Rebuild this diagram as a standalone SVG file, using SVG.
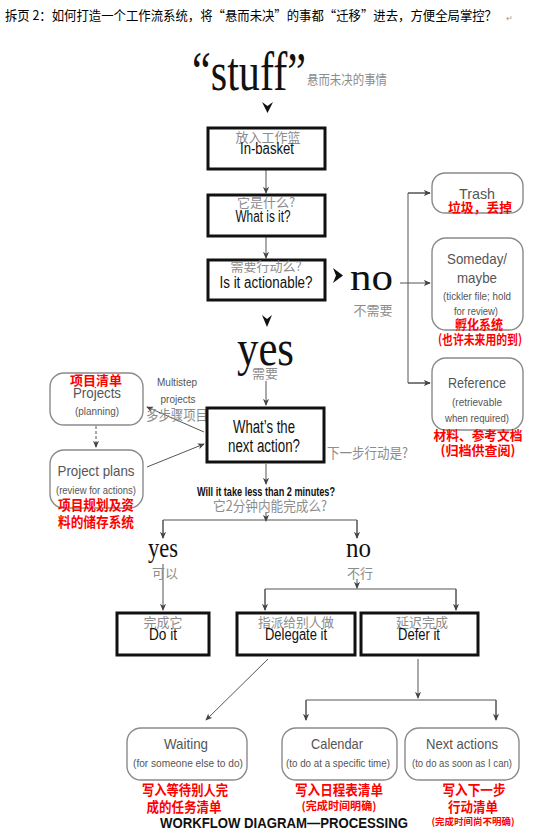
<svg xmlns="http://www.w3.org/2000/svg" width="554" height="837" viewBox="0 0 554 837">
<style>
.bg{fill:#fff}
.bx{fill:#fff;stroke:#111;stroke-width:3}
.rb{fill:#fff;stroke:#8a8a8a;stroke-width:1.4}
.en{font-family:"Liberation Sans",Arial,sans-serif;fill:#111;text-anchor:middle}
.gn{font-family:"Liberation Sans",Arial,sans-serif;fill:#555;text-anchor:middle}
.cn{font-family:"Noto Sans CJK SC",sans-serif;fill:#8c8c8c;text-anchor:middle;font-size:13px}
.rd{font-family:"Noto Sans CJK SC",sans-serif;fill:#ff0000;font-weight:bold;text-anchor:middle;font-size:13px}
.sf{font-family:"Liberation Serif","Times New Roman",serif;fill:#111}
.ln{fill:none;stroke:#555;stroke-width:1}
.ch{fill:#111}
</style>
<defs>
<marker id="ah" viewBox="0 0 8 8" refX="7" refY="4" markerWidth="7" markerHeight="7" orient="auto" markerUnits="userSpaceOnUse">
<path d="M0,0.5 L8,4 L0,7.5 L2,4 Z" fill="#444"/>
</marker>
</defs>
<rect class="bg" width="554" height="837"/>

<g id="title">
<text x="5" y="20" font-family="'Noto Sans CJK SC',sans-serif" font-size="13" fill="#000" textLength="492" lengthAdjust="spacingAndGlyphs">拆页 2：如何打造一个工作流系统，将“悬而未决”的事都“迁移”进去，方便全局掌控？</text>
<text x="506" y="21" font-family="'Noto Sans CJK SC',sans-serif" font-size="8" fill="#999">↵</text>
</g>

<g id="stuff">
<text class="sf" x="192" y="90" font-size="54" textLength="114" lengthAdjust="spacingAndGlyphs">“stuff”</text>
<text class="cn" x="307" y="84" style="text-anchor:start" textLength="80" lengthAdjust="spacingAndGlyphs">悬而未决的事情</text>
</g>

<g id="connectors">
<path class="ch" d="M262,102 L267.5,113 L273,102 L267.5,106 Z"/>
<line class="ln" x1="266" y1="169" x2="266" y2="193" marker-end="url(#ah)"/>
<line class="ln" x1="266" y1="236" x2="266" y2="258" marker-end="url(#ah)"/>
<path class="ch" d="M333,268 L343,275.5 L333,283 L336,275.5 Z"/>
<path class="ch" d="M262,315 L267,327 L272,315 L267,319 Z"/>
<line class="ln" x1="400" y1="283" x2="430" y2="283" marker-end="url(#ah)"/>
<polyline class="ln" points="430,193 408,193 408,383 430,383"/>
<line class="ln" x1="408" y1="193" x2="430" y2="193" marker-end="url(#ah)"/>
<line class="ln" x1="408" y1="383" x2="430" y2="383" marker-end="url(#ah)"/>
<line class="ln" x1="266" y1="381" x2="266" y2="405" marker-end="url(#ah)"/>
<line class="ln" x1="204" y1="432" x2="147" y2="407" marker-end="url(#ah)"/>
<line class="ln" x1="147" y1="467" x2="204" y2="444" marker-end="url(#ah)"/>
<line class="ln" x1="96" y1="426" x2="96" y2="447" stroke-dasharray="3 2" marker-end="url(#ah)"/>
<line class="ln" x1="266" y1="464" x2="266" y2="484" marker-end="url(#ah)"/>
<line class="ln" x1="266" y1="512" x2="266" y2="521" marker-end="url(#ah)"/>
<polyline class="ln" points="163,538 163,520 357,520 357,538"/>
<line class="ln" x1="163" y1="520" x2="163" y2="538" marker-end="url(#ah)"/>
<line class="ln" x1="357" y1="520" x2="357" y2="538" marker-end="url(#ah)"/>
<line class="ln" x1="163" y1="564" x2="163" y2="610" marker-end="url(#ah)"/>
<line class="ln" x1="357" y1="579" x2="357" y2="588" marker-end="url(#ah)"/>
<polyline class="ln" points="265,610 265,589 456,589 456,610"/>
<line class="ln" x1="265" y1="589" x2="265" y2="610" marker-end="url(#ah)"/>
<line class="ln" x1="456" y1="589" x2="456" y2="610" marker-end="url(#ah)"/>
<line class="ln" x1="268" y1="659" x2="206" y2="720" marker-end="url(#ah)"/>
<line class="ln" x1="418" y1="659" x2="418" y2="698" marker-end="url(#ah)"/>
<polyline class="ln" points="306,720 306,700 496,700 496,720"/>
<line class="ln" x1="306" y1="700" x2="306" y2="720" marker-end="url(#ah)"/>
<line class="ln" x1="496" y1="700" x2="496" y2="720" marker-end="url(#ah)"/>
</g>

<g id="in-basket">
<rect class="bx" x="208" y="128" width="117" height="41"/>
<text class="cn" x="268" y="142">放入工作篮</text>
<text class="en" x="267" y="154" font-size="16" textLength="54" lengthAdjust="spacingAndGlyphs">In-basket</text>
</g>

<g id="what-is-it">
<rect class="bx" x="208" y="195" width="117" height="41"/>
<text class="cn" x="266" y="207">它是什么?</text>
<text class="en" x="263" y="222" font-size="16" textLength="55" lengthAdjust="spacingAndGlyphs">What is it?</text>
</g>

<g id="actionable">
<rect class="bx" x="208" y="260" width="117" height="40"/>
<text class="cn" x="266" y="271">需要行动么?</text>
<text class="en" x="266" y="288" font-size="16" textLength="93" lengthAdjust="spacingAndGlyphs">Is it actionable?</text>
</g>

<g id="no-label">
<text class="sf" x="350" y="290" font-size="38" textLength="43" lengthAdjust="spacingAndGlyphs">no</text>
<text class="cn" x="373" y="315">不需要</text>
</g>

<g id="trash">
<rect class="rb" x="432" y="173" width="91" height="40" rx="13"/>
<text class="gn" x="477" y="199" font-size="15" textLength="36" lengthAdjust="spacingAndGlyphs">Trash</text>
<text class="rd" x="480" y="212" textLength="64" lengthAdjust="spacingAndGlyphs">垃圾，丢掉</text>
</g>

<g id="someday">
<rect class="rb" x="432" y="238" width="91" height="92" rx="14"/>
<text class="gn" x="477" y="264" font-size="15" textLength="60" lengthAdjust="spacingAndGlyphs">Someday/</text>
<text class="gn" x="477" y="283" font-size="15" textLength="40" lengthAdjust="spacingAndGlyphs">maybe</text>
<text class="gn" x="477" y="300" font-size="10" textLength="68" lengthAdjust="spacingAndGlyphs">(tickler file; hold</text>
<text class="gn" x="476" y="315" font-size="10" textLength="44" lengthAdjust="spacingAndGlyphs">for review)</text>
<text class="rd" x="479" y="329" textLength="48" lengthAdjust="spacingAndGlyphs">孵化系统</text>
<text class="rd" x="480" y="344" font-size="11" textLength="84" lengthAdjust="spacingAndGlyphs">(也许未来用的到)</text>
</g>

<g id="reference">
<rect class="rb" x="432" y="358" width="91" height="72" rx="14"/>
<text class="gn" x="477" y="388" font-size="15" textLength="58" lengthAdjust="spacingAndGlyphs">Reference</text>
<text class="gn" x="477" y="406" font-size="10" textLength="50" lengthAdjust="spacingAndGlyphs">(retrievable</text>
<text class="gn" x="477" y="422" font-size="10" textLength="64" lengthAdjust="spacingAndGlyphs">when required)</text>
<text class="rd" x="478" y="440" textLength="89" lengthAdjust="spacingAndGlyphs">材料、参考文档</text>
<text class="rd" x="478" y="455" textLength="75" lengthAdjust="spacingAndGlyphs">(归档供查阅)</text>
</g>

<g id="yes-label">
<text class="sf" x="237" y="365" font-size="50" textLength="57" lengthAdjust="spacingAndGlyphs">yes</text>
<text class="cn" x="265" y="378">需要</text>
</g>

<g id="projects">
<rect class="rb" x="50" y="373" width="93" height="52" rx="14"/>
<text class="rd" x="96" y="385" textLength="52" lengthAdjust="spacingAndGlyphs">项目清单</text>
<text class="gn" x="97" y="398" font-size="15" textLength="48" lengthAdjust="spacingAndGlyphs">Projects</text>
<text class="gn" x="97" y="415" font-size="10" textLength="44" lengthAdjust="spacingAndGlyphs">(planning)</text>
</g>

<g id="multistep-label">
<text class="gn" x="177" y="386" font-size="10.5" fill="#666" textLength="40" lengthAdjust="spacingAndGlyphs">Multistep</text>
<text class="gn" x="178" y="403" font-size="10.5" fill="#666" textLength="35" lengthAdjust="spacingAndGlyphs">projects</text>
<text class="cn" x="146" y="420" style="text-anchor:start;font-size:14px" textLength="62" lengthAdjust="spacingAndGlyphs">多步骤项目</text>
</g>

<g id="project-plans">
<rect class="rb" x="50" y="450" width="93" height="58" rx="14"/>
<text class="gn" x="96" y="476" font-size="15" textLength="77" lengthAdjust="spacingAndGlyphs">Project plans</text>
<text class="gn" x="96" y="494" font-size="10" textLength="80" lengthAdjust="spacingAndGlyphs">(review for actions)</text>
<text class="rd" x="96" y="510" style="font-size:14px" textLength="76" lengthAdjust="spacingAndGlyphs">项目规划及资</text>
<text class="rd" x="96" y="527" style="font-size:14px" textLength="76" lengthAdjust="spacingAndGlyphs">料的储存系统</text>
</g>

<g id="next-action">
<rect class="bx" x="207" y="408" width="117" height="54"/>
<text class="en" x="264" y="433" font-size="18" textLength="62" lengthAdjust="spacingAndGlyphs">What’s the</text>
<text class="en" x="264" y="452" font-size="18" textLength="72" lengthAdjust="spacingAndGlyphs">next action?</text>
<text class="cn" x="327" y="458" style="text-anchor:start;font-size:14px" textLength="81" lengthAdjust="spacingAndGlyphs">下一步行动是?</text>
</g>

<g id="two-minutes">
<text class="en" x="266" y="496" font-size="12" font-weight="bold" textLength="138" lengthAdjust="spacingAndGlyphs">Will it take less than 2 minutes?</text>
<text class="cn" x="270" y="511" style="font-size:14px" textLength="114" lengthAdjust="spacingAndGlyphs">它2分钟内能完成么?</text>
</g>

<g id="yes-small">
<text class="sf" x="148" y="557" font-size="28" textLength="30" lengthAdjust="spacingAndGlyphs">yes</text>
<text class="cn" x="165" y="578">可以</text>
</g>

<g id="no-small">
<text class="sf" x="346" y="557" font-size="28" textLength="25" lengthAdjust="spacingAndGlyphs">no</text>
<text class="cn" x="360" y="578">不行</text>
</g>

<g id="do-it">
<rect class="bx" x="117" y="613" width="92" height="42"/>
<text class="cn" x="163" y="627">完成它</text>
<text class="en" x="163" y="640" font-size="16" textLength="28" lengthAdjust="spacingAndGlyphs">Do it</text>
</g>

<g id="delegate-it">
<rect class="bx" x="237" y="613" width="118" height="42"/>
<text class="cn" x="296" y="627" textLength="76" lengthAdjust="spacingAndGlyphs">指派给别人做</text>
<text class="en" x="296" y="640" font-size="16" textLength="62" lengthAdjust="spacingAndGlyphs">Delegate it</text>
</g>

<g id="defer-it">
<rect class="bx" x="361" y="613" width="117" height="42"/>
<text class="cn" x="422" y="627">延迟完成</text>
<text class="en" x="419" y="640" font-size="16" textLength="42" lengthAdjust="spacingAndGlyphs">Defer it</text>
</g>

<g id="waiting">
<rect class="rb" x="127" y="728" width="120" height="52" rx="14"/>
<text class="gn" x="186" y="749" font-size="15" textLength="44" lengthAdjust="spacingAndGlyphs">Waiting</text>
<text class="gn" x="188" y="767" font-size="10" textLength="110" lengthAdjust="spacingAndGlyphs">(for someone else to do)</text>
<text class="rd" x="185" y="795" style="font-size:14px" textLength="86" lengthAdjust="spacingAndGlyphs">写入等待别人完</text>
<text class="rd" x="184" y="812" style="font-size:14px" textLength="75" lengthAdjust="spacingAndGlyphs">成的任务清单</text>
</g>

<g id="calendar">
<rect class="rb" x="282" y="728" width="115" height="52" rx="14"/>
<text class="gn" x="337" y="749" font-size="15" textLength="52" lengthAdjust="spacingAndGlyphs">Calendar</text>
<text class="gn" x="338" y="767" font-size="10" textLength="104" lengthAdjust="spacingAndGlyphs">(to do at a specific time)</text>
<text class="rd" x="339" y="795" style="font-size:14px" textLength="88" lengthAdjust="spacingAndGlyphs">写入日程表清单</text>
<text class="rd" x="339" y="810" style="font-size:11px" textLength="75" lengthAdjust="spacingAndGlyphs">(完成时间明确)</text>
</g>

<g id="next-actions">
<rect class="rb" x="405" y="728" width="114" height="52" rx="14"/>
<text class="gn" x="462" y="749" font-size="15" textLength="72" lengthAdjust="spacingAndGlyphs">Next actions</text>
<text class="gn" x="462" y="767" font-size="10" textLength="100" lengthAdjust="spacingAndGlyphs">(to do as soon as I can)</text>
<text class="rd" x="474" y="795" style="font-size:14px" textLength="63" lengthAdjust="spacingAndGlyphs">写入下一步</text>
<text class="rd" x="473" y="812" style="font-size:14px" textLength="50" lengthAdjust="spacingAndGlyphs">行动清单</text>
<text class="rd" x="473" y="825" style="font-size:9.5px" textLength="83" lengthAdjust="spacingAndGlyphs">(完成时间尚不明确)</text>
</g>

<g id="caption">
<text x="160" y="828" font-family="'Liberation Sans',Arial,sans-serif" font-size="14" font-weight="bold" fill="#111" textLength="248" lengthAdjust="spacingAndGlyphs">WORKFLOW DIAGRAM—PROCESSING</text>
</g>
</svg>
